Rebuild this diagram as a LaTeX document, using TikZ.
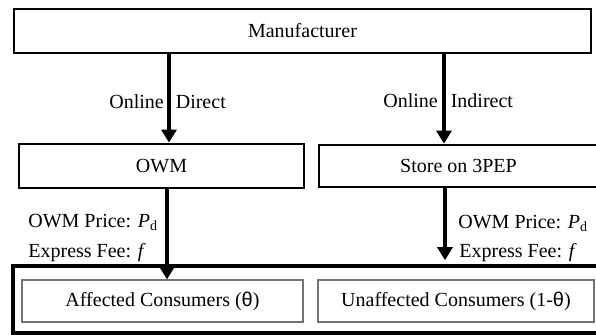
\documentclass[tikz,border=0pt]{standalone}
\usepackage{fontspec}
\setmainfont{Liberation Serif}
\newfontfamily\thetafont{Liberation Sans}
\usetikzlibrary{arrows.meta}
\begin{document}
\begin{tikzpicture}[x=0.5pt,y=-0.5pt,
  font=\fontsize{10}{12}\selectfont,
  box/.style={draw=black,line width=1.4pt,rectangle,inner sep=0pt},
  outerbox/.style={draw=black,line width=1.8pt,rectangle,inner sep=0pt},
  innerbox/.style={draw=black!55,line width=0.6pt,rectangle,inner sep=0pt},
  arr/.style={line width=1.6pt,-{Triangle[width=7.5pt,length=6.5pt]}},
  lbl/.style={inner sep=0pt,anchor=base west}]
\useasboundingbox (0,0) rectangle (596,334);
\clip (0,0) rectangle (596,334);
\fill[white] (0,0) rectangle (596,334);
% boxes
\node[box,minimum width=288.5pt,minimum height=22pt] (man) at (302.5,31) {Manufacturer};
\node[box,minimum width=142.5pt,minimum height=22pt] (owm) at (161.5,166) {OWM};
\node[box,minimum width=139.5pt,minimum height=21pt] (store) at (458.5,166) {Store on 3PEP};
\node[outerbox,minimum width=293pt,minimum height=33.5pt] (cont) at (306,299.5) {};
\node[innerbox,minimum width=140.5pt,minimum height=21pt] (aff) at (162.5,301) {Affected Consumers ({\thetafont θ})};
\node[innerbox,minimum width=138pt,minimum height=21pt] (unaff) at (456,301) {Unaffected Consumers (1-{\thetafont θ})};
% arrow positions
\coordinate (xa) at (169,0);
\coordinate (xb) at (444,0);
\coordinate (xc) at (167,0);
\coordinate (xd) at (445,0);
% labels
\node[lbl] (ld) at (109,108) {Online\hspace{6pt}Direct};
\node[lbl] (li) at (383,107) {Online\hspace{6.5pt}Indirect};
\node[lbl] (p1) at (28,227) {OWM Price: \textit{P}\textsubscript{d}};
\node[lbl] (f1) at (28,257) {Express Fee: \textit{f}};
\node[lbl] (p2) at (458,228) {OWM Price: \textit{P}\textsubscript{d}};
\node[lbl] (f2) at (459,257) {Express Fee: \textit{f}};
% arrows
\draw[arr] (man.south -| xa) -- (owm.north -| xa);
\draw[arr] (man.south -| xb) -- (store.north -| xb);
\draw[arr] (owm.south -| xc) -- (aff.north -| xc);
\draw[arr,shorten >=2pt] (store.south -| xd) -- (cont.north -| xd);
\end{tikzpicture}
\end{document}
